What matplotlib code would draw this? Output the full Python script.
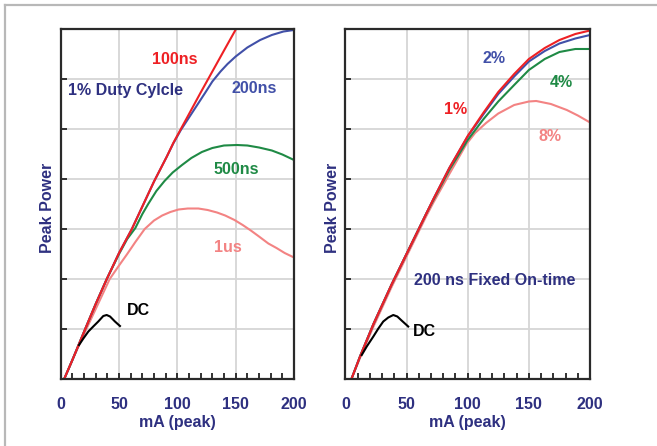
"""Peak power vs peak current: pulse width and duty cycle comparison."""

import matplotlib.pyplot as plt
from matplotlib.lines import Line2D
from matplotlib.ticker import MultipleLocator

plt.rcParams["font.family"] = ["Liberation Sans", "DejaVu Sans"]
plt.rcParams["font.weight"] = "bold"

NAVY = "#2e3080"
RED = "#ee2024"
BLUE = "#4150a8"
GREEN = "#1f8a45"
PINK = "#f38383"

# ---- left panel: 1% duty cycle, varying pulse width ----
x_100ns = [3, 10, 21, 30, 39.5, 50, 61, 72, 80, 91, 96.5, 103, 110, 120, 130, 140, 150.3]
y_100ns = [0.0, 0.38, 1.0, 1.5, 2.0, 2.52, 3.0, 3.55, 3.95, 4.45, 4.72, 5.0, 5.3, 5.73, 6.15, 6.57, 7.0]

x_200ns = [3, 10, 21, 30, 39.5, 50, 61, 72, 80, 91, 96.5, 103, 110, 117, 124, 130, 137, 143,
           150, 160, 171, 181, 191, 200]
y_200ns = [0.0, 0.38, 1.0, 1.5, 2.0, 2.52, 3.0, 3.55, 3.95, 4.45, 4.71, 4.98, 5.23, 5.48, 5.73,
           5.95, 6.15, 6.3, 6.45, 6.63, 6.78, 6.88, 6.95, 6.98]

x_500ns = [3, 10, 21, 30, 39.5, 50, 57, 64, 70, 75, 82, 89, 96, 104, 112, 121, 130, 140, 151,
           160, 170, 181, 190, 200]
y_500ns = [0.0, 0.38, 1.0, 1.5, 2.0, 2.5, 2.8, 3.02, 3.3, 3.5, 3.76, 3.96, 4.13, 4.28, 4.42,
           4.54, 4.62, 4.67, 4.68, 4.67, 4.63, 4.57, 4.49, 4.38]

x_1us = [3, 10, 22, 32, 42, 50, 57, 64, 72, 80, 87, 94, 101, 109, 118, 126, 134, 141, 149, 156,
         163, 170, 178, 185, 192, 200]
y_1us = [0.0, 0.38, 1.0, 1.5, 2.0, 2.27, 2.5, 2.74, 3.0, 3.17, 3.27, 3.34, 3.39, 3.41, 3.41, 3.38,
         3.33, 3.27, 3.18, 3.08, 2.97, 2.85, 2.71, 2.62, 2.52, 2.43]

x_dc_left = [15.7, 19.4, 23.7, 27.9, 32.2, 36.5, 39.4, 42.3, 46.5, 50.8]
y_dc_left = [0.68, 0.81, 0.95, 1.05, 1.15, 1.26, 1.28, 1.25, 1.15, 1.06]

# ---- right panel: 200 ns fixed on-time, varying duty cycle ----
x_1pct = [5, 12, 23, 38, 53, 66, 72, 85, 100, 113, 125, 138, 150, 163, 175, 188, 200]
y_1pct = [0.0, 0.45, 1.1, 1.9, 2.65, 3.3, 3.6, 4.22, 4.86, 5.33, 5.74, 6.1, 6.4, 6.62, 6.78, 6.9, 6.97]

x_2pct = [5, 12, 23, 38, 53, 66, 72, 85, 100, 113, 125, 138, 150, 163, 175, 188, 200]
y_2pct = [0.0, 0.45, 1.1, 1.9, 2.65, 3.3, 3.6, 4.22, 4.85, 5.3, 5.7, 6.05, 6.35, 6.56, 6.71, 6.81, 6.88]

x_4pct = [5, 12, 23, 38, 53, 66, 72, 85, 100, 113, 125, 138, 150, 163, 175, 188, 200]
y_4pct = [0.0, 0.45, 1.1, 1.9, 2.65, 3.3, 3.58, 4.18, 4.78, 5.2, 5.55, 5.88, 6.18, 6.4, 6.54, 6.6, 6.6]

x_8pct = [5, 12, 23, 38, 53, 66, 72, 85, 92, 99, 106, 115, 125, 138, 150, 156, 168, 181, 190, 200]
y_8pct = [0.0, 0.42, 1.05, 1.85, 2.6, 3.25, 3.53, 4.1, 4.4, 4.7, 4.92, 5.12, 5.31, 5.48, 5.55, 5.56,
          5.5, 5.38, 5.27, 5.13]

x_dc_right = [13.4, 17.5, 22.9, 27.0, 31.0, 35.1, 39.2, 42.5, 46.0, 51.4]
y_dc_right = [0.48, 0.65, 0.85, 1.01, 1.15, 1.23, 1.28, 1.25, 1.17, 1.05]

x_ticks = [0, 50, 100, 150, 200]

fig = plt.figure(figsize=(6.57, 4.46), dpi=100)
ax_l = fig.add_axes([0.0924, 0.1502, 0.3551, 0.7848])
ax_r = fig.add_axes([0.5256, 0.1502, 0.3725, 0.7848])

# light gray page frame (top and left edges)
fig.add_artist(Line2D([4.5 / 657, 1.0], [1 - 4.5 / 446] * 2, color="#b8b8b8", lw=1.6))
fig.add_artist(Line2D([4.5 / 657] * 2, [0.0, 1 - 4.5 / 446], color="#b8b8b8", lw=1.6))


def style_axes(ax):
    ax.set_xlim(0, 200)
    ax.set_ylim(0, 7)
    ax.set_xticks(x_ticks)
    ax.set_xticklabels([str(t) for t in x_ticks])
    ax.xaxis.set_minor_locator(MultipleLocator(10))
    ax.yaxis.set_major_locator(MultipleLocator(1))
    ax.set_yticklabels([])
    ax.grid(True, which="major", color="#d6d6d6", lw=1.3)
    ax.set_axisbelow(True)
    ax.tick_params(axis="x", which="both", direction="in", length=4, width=1.3,
                   color="#222222", pad=13, labelsize=11.5, labelcolor=NAVY)
    ax.tick_params(axis="y", which="major", direction="in", length=4, width=1.3,
                   color="#222222")
    for lab in ax.get_xticklabels():
        lab.set_fontweight("bold")
    for sp in ax.spines.values():
        sp.set_color("#2a2a2a")
        sp.set_linewidth(1.6)
    ax.set_xlabel("mA (peak)", fontsize=11.5, fontweight="bold", color=NAVY, va="center")
    ax.xaxis.set_label_coords(0.5, -0.125)
    ax.set_ylabel("Peak Power", fontsize=11.5, fontweight="bold", color=NAVY, va="center")


style_axes(ax_l)
style_axes(ax_r)
ax_l.yaxis.set_label_coords(-0.056, 0.49)
ax_r.yaxis.set_label_coords(-0.051, 0.49)

lw = 1.5
ax_l.plot(x_1us, y_1us, color=PINK, lw=lw)
ax_l.plot(x_500ns, y_500ns, color=GREEN, lw=lw)
ax_l.plot(x_200ns, y_200ns, color=BLUE, lw=lw)
ax_l.plot(x_100ns, y_100ns, color=RED, lw=lw)
ax_l.plot(x_dc_left, y_dc_left, color="black", lw=lw)

fs = 11.5
ax_l.text(98, 6.38, "100ns", color=RED, fontsize=fs, ha="center", va="center")
ax_l.text(6.5, 5.77, "1% Duty Cylcle", color=NAVY, fontsize=fs, ha="left", va="center")
ax_l.text(165.7, 5.81, "200ns", color=BLUE, fontsize=fs, ha="center", va="center")
ax_l.text(150.8, 4.18, "500ns", color=GREEN, fontsize=fs, ha="center", va="center")
ax_l.text(143.7, 2.63, "1us", color=PINK, fontsize=fs, ha="center", va="center")
ax_l.text(66.5, 1.38, "DC", color="black", fontsize=fs, ha="center", va="center")

ax_r.plot(x_8pct, y_8pct, color=PINK, lw=lw)
ax_r.plot(x_4pct, y_4pct, color=GREEN, lw=lw)
ax_r.plot(x_2pct, y_2pct, color=BLUE, lw=lw)
ax_r.plot(x_1pct, y_1pct, color=RED, lw=lw)
ax_r.plot(x_dc_right, y_dc_right, color="black", lw=lw)

ax_r.text(121.7, 6.41, "2%", color=BLUE, fontsize=fs, ha="center", va="center")
ax_r.text(176.7, 5.93, "4%", color=GREEN, fontsize=fs, ha="center", va="center")
ax_r.text(90.4, 5.38, "1%", color=RED, fontsize=fs, ha="center", va="center")
ax_r.text(167.1, 4.85, "8%", color=PINK, fontsize=fs, ha="center", va="center")
ax_r.text(121.7, 1.98, "200 ns Fixed On-time", color=NAVY, fontsize=fs, ha="center", va="center")
ax_r.text(64.5, 0.96, "DC", color="black", fontsize=fs, ha="center", va="center")

fig.savefig("out.png", dpi=100)
